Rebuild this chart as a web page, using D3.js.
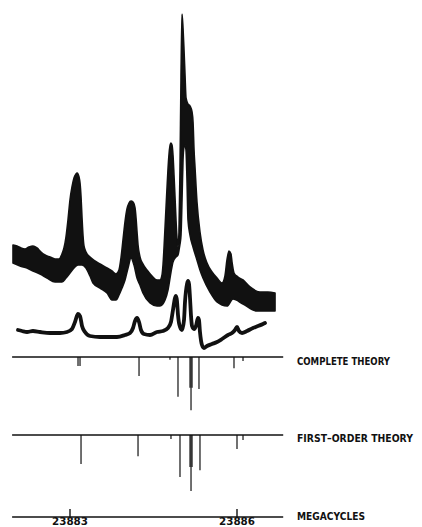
<!DOCTYPE html>
<html>
<head>
<meta charset="utf-8">
<script src="https://cdn.jsdelivr.net/npm/d3@7"></script>
<style>
  html, body { margin: 0; padding: 0; background: #fff; }
  svg { display: block; }
  text { font-family: "DejaVu Sans", sans-serif; fill: #111; }
</style>
</head>
<body>
<div id="chart"></div>
<script>
// observed spectrum, upper (noisy) recorder trace: top and bottom edge of the ink band
const bandTop = [
  [23881.976, 105], [23882.048, 104], [23882.120, 102], [23882.192, 101], [23882.263, 103],
  [23882.335, 104], [23882.407, 102], [23882.479, 98], [23882.551, 95], [23882.641, 93],
  [23882.731, 91], [23882.802, 91], [23882.856, 96], [23882.892, 102], [23882.928, 113],
  [23882.964, 130], [23883.000, 150], [23883.036, 163], [23883.072, 172], [23883.108, 176],
  [23883.126, 177], [23883.144, 176], [23883.162, 173], [23883.180, 167], [23883.198, 153],
  [23883.216, 132], [23883.234, 114], [23883.251, 104], [23883.287, 98], [23883.359, 93],
  [23883.449, 89], [23883.539, 86], [23883.665, 82], [23883.754, 79], [23883.826, 76],
  [23883.880, 80], [23883.916, 92], [23883.952, 110], [23883.988, 128], [23884.024, 141],
  [23884.060, 147], [23884.096, 149], [23884.132, 148], [23884.168, 142], [23884.186, 132],
  [23884.204, 118], [23884.222, 105], [23884.257, 93], [23884.311, 86], [23884.383, 80],
  [23884.473, 74], [23884.563, 70], [23884.617, 70], [23884.653, 75], [23884.671, 85],
  [23884.689, 102], [23884.707, 122], [23884.725, 142], [23884.743, 162], [23884.760, 180],
  [23884.778, 195], [23884.796, 204], [23884.814, 207], [23884.832, 205], [23884.850, 195],
  [23884.868, 175], [23884.886, 153], [23884.904, 130], [23884.922, 112], [23884.940, 103],
  [23884.958, 118], [23884.976, 180], [23884.994, 270], [23885.012, 336], [23885.030, 322],
  [23885.048, 300], [23885.066, 275], [23885.084, 252], [23885.120, 246], [23885.156, 244],
  [23885.192, 238], [23885.210, 228], [23885.228, 200], [23885.246, 182], [23885.281, 148],
  [23885.335, 118], [23885.389, 100], [23885.461, 87], [23885.551, 78], [23885.641, 72],
  [23885.731, 67], [23885.784, 74], [23885.820, 90], [23885.856, 99], [23885.892, 96],
  [23885.910, 88], [23885.946, 77], [23886.018, 73], [23886.108, 70], [23886.234, 63],
  [23886.413, 58], [23886.557, 58], [23886.683, 57]
];

const bandBottom = [
  [23881.976, 87], [23882.102, 84], [23882.228, 82], [23882.335, 79], [23882.461, 76],
  [23882.587, 72], [23882.731, 68], [23882.856, 68], [23882.928, 72], [23883.000, 77],
  [23883.072, 82], [23883.144, 85], [23883.216, 85], [23883.287, 82], [23883.359, 74],
  [23883.413, 67], [23883.539, 62], [23883.665, 57], [23883.754, 50], [23883.826, 50],
  [23883.880, 55], [23883.934, 62], [23883.988, 70], [23884.042, 82], [23884.096, 92],
  [23884.150, 85], [23884.204, 72], [23884.257, 65], [23884.311, 57], [23884.437, 47],
  [23884.563, 44], [23884.617, 44], [23884.707, 50], [23884.760, 60], [23884.814, 78],
  [23884.850, 88], [23884.904, 93], [23884.940, 95], [23884.958, 100], [23884.976, 106],
  [23884.994, 115], [23885.012, 150], [23885.030, 190], [23885.048, 203], [23885.066, 205],
  [23885.084, 200], [23885.102, 170], [23885.120, 130], [23885.156, 115], [23885.210, 103],
  [23885.281, 90], [23885.335, 80], [23885.389, 72], [23885.515, 58], [23885.641, 48],
  [23885.820, 44], [23885.928, 51], [23886.108, 46], [23886.359, 39], [23886.683, 39]
];

// observed spectrum, lower (cleaner) trace
const lowerTrace = [
  [23882.066, 20], [23882.138, 19], [23882.228, 18], [23882.335, 19], [23882.461, 18],
  [23882.641, 17], [23882.820, 17], [23882.946, 18], [23883.036, 21], [23883.090, 28],
  [23883.144, 36], [23883.180, 34], [23883.216, 24], [23883.269, 18], [23883.359, 14],
  [23883.539, 13], [23883.719, 13], [23883.844, 13], [23883.988, 15], [23884.078, 17],
  [23884.132, 22], [23884.168, 29], [23884.204, 32], [23884.240, 28], [23884.275, 20],
  [23884.329, 16], [23884.437, 15], [23884.563, 18], [23884.671, 19], [23884.760, 22],
  [23884.814, 28], [23884.850, 40], [23884.886, 52], [23884.904, 54], [23884.922, 49],
  [23884.940, 35], [23884.976, 23], [23885.012, 20], [23885.048, 30], [23885.066, 48],
  [23885.102, 66], [23885.120, 69], [23885.138, 66], [23885.156, 52], [23885.174, 34],
  [23885.192, 24], [23885.228, 21], [23885.263, 24], [23885.299, 32], [23885.317, 30],
  [23885.335, 18], [23885.371, 5], [23885.407, 2], [23885.461, 4], [23885.551, 6],
  [23885.641, 8], [23885.731, 11], [23885.838, 15], [23885.910, 17], [23885.964, 20],
  [23886.000, 23], [23886.036, 19], [23886.090, 17], [23886.180, 19], [23886.287, 22],
  [23886.377, 24], [23886.467, 26], [23886.503, 27]
];

// theoretical line positions (MHz) and relative intensities
const completeFreq = [23883.144, 23883.180, 23884.240, 23884.796, 23884.940, 23885.156, 23885.174, 23885.192, 23885.317, 23885.946, 23886.108];
const completeInt  = [16, 16, 34, 5, 71, 55, 95, 55, 57, 20, 7];
const firstFreq = [23883.198, 23884.222, 23884.814, 23884.976, 23885.156, 23885.174, 23885.192, 23885.335, 23886.000, 23886.108];
const firstInt  = [52, 38, 7, 75, 57, 100, 57, 63, 25, 9];

const tickValues = [23883, 23886];
const lineExtent = [23881.96, 23886.83];
const rowLabels = ["COMPLETE THEORY", "FIRST\u2013ORDER THEORY", "MEGACYCLES"];

const width = 422, height = 527, ink = "#111";

const svg = d3.select("#chart")
  .append("svg")
  .attr("width", width)
  .attr("height", height);

const x = d3.scaleLinear().domain([23883, 23886]).range([70, 237]);
const y = d3.scaleLinear().domain([0, 340]).range([350, 10]);
const stick = d3.scaleLinear().domain([0, 100]).range([0, 56]);

const line = d3.line()
  .x(d => x(d[0]))
  .y(d => y(d[1]))
  .curve(d3.curveMonotoneX);

// ink band: top edge forward, bottom edge back
const bandPath = line(bandTop) + line(bandBottom.slice().reverse()).replace(/^M/, "L") + "Z";
svg.append("path")
  .attr("d", bandPath)
  .attr("fill", ink)
  .attr("stroke", ink)
  .attr("stroke-width", 1.6)
  .attr("stroke-linejoin", "round");

svg.append("path")
  .attr("d", line(lowerTrace))
  .attr("fill", "none")
  .attr("stroke", ink)
  .attr("stroke-width", 3.8)
  .attr("stroke-linejoin", "round")
  .attr("stroke-linecap", "round");

// stick spectra
const rows = [
  { y0: 357, freq: completeFreq, inten: completeInt },
  { y0: 435, freq: firstFreq, inten: firstInt }
];

rows.forEach(r => {
  svg.append("line")
    .attr("x1", x(lineExtent[0])).attr("x2", x(lineExtent[1]))
    .attr("y1", r.y0).attr("y2", r.y0)
    .attr("stroke", ink).attr("stroke-width", 1.4);

  svg.append("g")
    .selectAll("line")
    .data(r.freq.map((f, i) => ({ f, v: r.inten[i] })))
    .join("line")
    .attr("x1", d => x(d.f)).attr("x2", d => x(d.f))
    .attr("y1", r.y0)
    .attr("y2", d => r.y0 + stick(d.v))
    .attr("stroke", ink)
    .attr("stroke-width", 1.2);
});

// frequency axis
const axisY = 517;
svg.append("line")
  .attr("x1", x(lineExtent[0])).attr("x2", x(lineExtent[1]))
  .attr("y1", axisY).attr("y2", axisY)
  .attr("stroke", ink).attr("stroke-width", 1.4);

svg.append("g")
  .selectAll("line")
  .data(tickValues)
  .join("line")
  .attr("x1", d => x(d)).attr("x2", d => x(d))
  .attr("y1", axisY).attr("y2", axisY - 8)
  .attr("stroke", ink).attr("stroke-width", 1.4);

svg.append("g")
  .selectAll("text")
  .data(tickValues)
  .join("text")
  .attr("x", d => x(d))
  .attr("y", 525)
  .attr("text-anchor", "middle")
  .attr("font-size", 10.5)
  .attr("font-weight", "bold")
  .attr("textLength", 36)
  .attr("lengthAdjust", "spacingAndGlyphs")
  .text(d => d);

// row labels
const labelY = [365, 442, 520];
const labelLen = [93, 116, 68];
svg.append("g")
  .selectAll("text")
  .data(rowLabels)
  .join("text")
  .attr("x", 297)
  .attr("y", (d, i) => labelY[i])
  .attr("font-size", (d, i) => i === 1 ? 10 : 10.5)
  .attr("font-weight", "bold")
  .attr("textLength", (d, i) => labelLen[i])
  .attr("lengthAdjust", "spacingAndGlyphs")
  .text(d => d);
</script>
</body>
</html>
